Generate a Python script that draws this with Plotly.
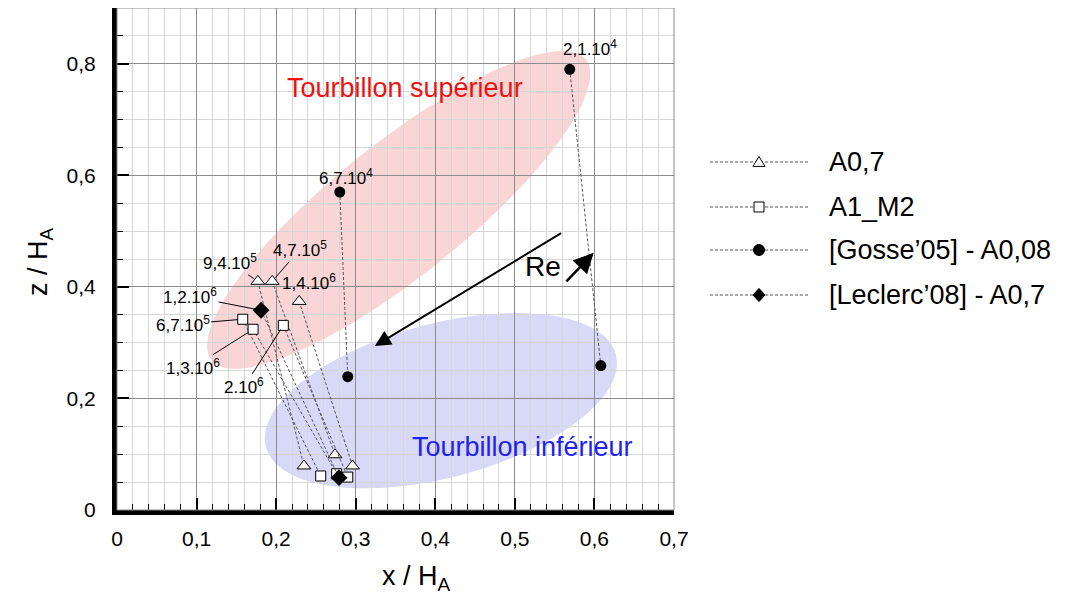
import numpy as np
import plotly.graph_objects as go

# A0,7 (open triangles): upper vortex position -> lower vortex position, one pair per Re
a07_re = ["9,4.10<sup>5</sup>", "4,7.10<sup>5</sup>", "1,4.10<sup>6</sup>"]
a07_up_x = [0.177, 0.195, 0.229]
a07_up_z = [0.410, 0.410, 0.374]
a07_lo_x = [0.235, 0.274, 0.296]
a07_lo_z = [0.079, 0.099, 0.079]

# A1_M2 (open squares)
a1m2_re = ["6,7.10<sup>5</sup>", "1,3.10<sup>6</sup>", "2.10<sup>6</sup>"]
a1m2_up_x = [0.158, 0.171, 0.209]
a1m2_up_z = [0.342, 0.324, 0.331]
a1m2_lo_x = [0.256, 0.276, 0.290]
a1m2_lo_z = [0.061, 0.065, 0.059]

# [Gosse'05] - A0,08 (filled circles)
gos_re = ["2,1.10<sup>4</sup>", "6,7.10<sup>4</sup>"]
gos_up_x = [0.569, 0.280]
gos_up_z = [0.790, 0.570]
gos_lo_x = [0.608, 0.290]
gos_lo_z = [0.259, 0.239]

# [Leclerc'08] - A0,7 (filled diamond)
lec_re = ["1,2.10<sup>6</sup>"]
lec_up_x = [0.181]
lec_up_z = [0.358]
lec_lo_x = [0.279]
lec_lo_z = [0.058]

legend_names = ["A0,7", "A1_M2", "[Gosse\u201905] - A0,08", "[Leclerc\u201908] - A0,7"]

x_ticks = [0, 0.1, 0.2, 0.3, 0.4, 0.5, 0.6, 0.7]
x_ticktext = ["0", "0,1", "0,2", "0,3", "0,4", "0,5", "0,6", "0,7"]
z_ticks = [0, 0.2, 0.4, 0.6, 0.8]
z_ticktext = ["0", "0,2", "0,4", "0,6", "0,8"]

FONT = "Liberation Sans Narrow, Arial Narrow, Liberation Sans, Arial, sans-serif"
W, H = 1066, 603
OFF = 8  # default body margin of the html page
L, R, T, B = 109, 400, 0, 101
PW, PH = W - L - R, H - T - B
X_RANGE = [0, 0.7]
Z_RANGE = [0, 0.9]
PX_X = PW / (X_RANGE[1] - X_RANGE[0])
PX_Z = PH / (Z_RANGE[1] - Z_RANGE[0])


def paper(xp, yp):
    """Page pixel position -> paper coordinates."""
    return (xp - OFF - L) / PW, (H - B - (yp - OFF)) / PH


def pairs(ux, uz, lx, lz):
    xs, zs = [], []
    for a, b, c, d in zip(ux, uz, lx, lz):
        xs += [a, c, None]
        zs += [b, d, None]
    return xs, zs


def ellipse_path(cx, cz, a_px, b_px, angle_deg, n=120):
    th = np.radians(angle_deg)
    t = np.linspace(0, 2 * np.pi, n)
    dx = a_px * np.cos(t) * np.cos(th) - b_px * np.sin(t) * np.sin(th)
    dz = a_px * np.cos(t) * np.sin(th) + b_px * np.sin(t) * np.cos(th)
    xs = cx + dx / PX_X
    zs = cz + dz / PX_Z
    pts = [f"{x:.5f},{z:.5f}" for x, z in zip(xs, zs)]
    return "M " + " L ".join(pts) + " Z"


def legend_symbol(kind, xp, yp, s, fill):
    """Small marker drawn as a paper shape, centred on page pixel (xp, yp)."""
    h = s / 2
    if kind == "triangle-up":
        pts = [(xp, yp - h), (xp + h * 1.1, yp + h * 0.8), (xp - h * 1.1, yp + h * 0.8)]
    elif kind == "square":
        pts = [(xp - h, yp - h), (xp + h, yp - h), (xp + h, yp + h), (xp - h, yp + h)]
    elif kind == "diamond":
        pts = [(xp, yp - h * 1.1), (xp + h, yp), (xp, yp + h * 1.1), (xp - h, yp)]
    else:
        x0, y0 = paper(xp - h, yp + h)
        x1, y1 = paper(xp + h, yp - h)
        return dict(type="circle", xref="paper", yref="paper", x0=x0, x1=x1, y0=y0, y1=y1,
                    fillcolor=fill, line=dict(color="black", width=1))
    path = "M " + " L ".join("{:.5f},{:.5f}".format(*paper(px, py)) for px, py in pts) + " Z"
    return dict(type="path", xref="paper", yref="paper", path=path,
                fillcolor=fill, line=dict(color="black", width=1))


line_style = dict(color="#555555", width=1, dash="3px,2px")
markers = [
    dict(symbol="triangle-up", size=12, color="white", line=dict(color="black", width=1)),
    dict(symbol="square", size=10, color="white", line=dict(color="black", width=1)),
    dict(symbol="circle", size=11, color="black", line=dict(color="black", width=0)),
    dict(symbol="diamond", size=13, color="black", line=dict(color="black", width=0)),
]
series = [
    (a07_up_x, a07_up_z, a07_lo_x, a07_lo_z),
    (a1m2_up_x, a1m2_up_z, a1m2_lo_x, a1m2_lo_z),
    (gos_up_x, gos_up_z, gos_lo_x, gos_lo_z),
    (lec_up_x, lec_up_z, lec_lo_x, lec_lo_z),
]

fig = go.Figure()
for (ux, uz, lx, lz), mk, name in zip(series, markers, legend_names):
    xs, zs = pairs(ux, uz, lx, lz)
    fig.add_trace(go.Scatter(
        x=xs, y=zs, mode="lines+markers", name=name,
        line=line_style, marker=mk, showlegend=False, hoverinfo="x+y",
    ))

# vortex regions
shapes = [
    dict(type="path", xref="x", yref="y", layer="below",
         path=ellipse_path(0.354, 0.538, 240, 66, 38.8),
         fillcolor="#f9d5d5", line=dict(width=0)),
    dict(type="path", xref="x", yref="y", layer="below",
         path=ellipse_path(0.407, 0.196, 181, 77, 14.8),
         fillcolor="#d8d8f8", line=dict(width=0)),
    # thin top/right frame
    dict(type="rect", xref="paper", yref="paper", x0=0, x1=1, y0=0, y1=1,
         line=dict(color="#8a8a8a", width=1), layer="above"),
]

annotations = []

# Reynolds-number labels: (screen dx, screen dy, leader line)
label_offsets = {
    "a07": [(-28, -19, True), (28, -32, True), (10, -19, False)],
    "a1m2": [(-60, 5, True), (-60, 38, True), (-39, 61, True)],
    "gos": [(20, -21, False), (6, -15, False)],
    "lec": [(-71, -14, True)],
}
for key, texts, ux, uz in [
    ("a07", a07_re, a07_up_x, a07_up_z),
    ("a1m2", a1m2_re, a1m2_up_x, a1m2_up_z),
    ("gos", gos_re, gos_up_x, gos_up_z),
    ("lec", lec_re, lec_up_x, lec_up_z),
]:
    for txt, x, z, (dx, dy, leader) in zip(texts, ux, uz, label_offsets[key]):
        ann = dict(x=x, y=z, xref="x", yref="y", text=txt,
                   font=dict(size=17, color="black", family=FONT))
        if leader:
            ann.update(showarrow=True, ax=dx, ay=dy, arrowhead=0, arrowwidth=1,
                       arrowcolor="black", standoff=5)
        else:
            ann.update(showarrow=False, xshift=dx, yshift=-dy)
        annotations.append(ann)

# region names, Re arrows
annotations += [
    dict(x=0.362, y=0.757, xref="x", yref="y", text="Tourbillon sup\u00e9rieur",
         showarrow=False, font=dict(size=27, color="#ee1111", family=FONT)),
    dict(x=0.510, y=0.113, xref="x", yref="y", text="Tourbillon inf\u00e9rieur",
         showarrow=False, font=dict(size=27, color="#2222ee", family=FONT)),
    dict(x=0.535, y=0.436, xref="x", yref="y", text="Re",
         showarrow=False, font=dict(size=28, color="black", family=FONT)),
    dict(x=0.324, y=0.294, ax=0.560, ay=0.498, xref="x", yref="y",
         axref="x", ayref="y", text="", showarrow=True, arrowhead=2,
         arrowsize=1.6, arrowwidth=2, arrowcolor="black"),
    dict(x=0.599, y=0.461, ax=0.563, ay=0.407, xref="x", yref="y",
         axref="x", ayref="y", text="", showarrow=True, arrowhead=2,
         arrowsize=1.6, arrowwidth=2.5, arrowcolor="black"),
]

# axis titles
tx, ty = paper(416, 578)
annotations.append(dict(x=tx, y=ty, xref="paper", yref="paper", text="x / H<sub>A</sub>",
                        xanchor="center", yanchor="middle", showarrow=False,
                        font=dict(size=27, color="black", family=FONT)))
tx, ty = paper(40, 262)
annotations.append(dict(x=tx, y=ty, xref="paper", yref="paper", text="z / H<sub>A</sub>",
                        textangle=-90, xanchor="center", yanchor="middle", showarrow=False,
                        font=dict(size=27, color="black", family=FONT)))

# legend drawn by hand: dashed line, marker, text
leg_rows = [162, 207, 250, 295]
leg_sizes = [11, 10, 11, 12]
for yp, mk, name, s in zip(leg_rows, markers, legend_names, leg_sizes):
    x0, yy = paper(710, yp)
    x1, _ = paper(808, yp)
    shapes.append(dict(type="line", xref="paper", yref="paper", x0=x0, x1=x1,
                       y0=yy, y1=yy, line=line_style))
    shapes.append(legend_symbol(mk["symbol"], 759, yp, s, mk["color"]))
    txp, _ = paper(827, yp)
    annotations.append(dict(x=txp, y=yy, xref="paper", yref="paper", text=name,
                            xanchor="left", yanchor="middle", showarrow=False,
                            font=dict(size=27, color="black", family=FONT)))

axis_common = dict(
    showline=True, linecolor="black", linewidth=5,
    ticks="inside", ticklen=12, tickwidth=2, tickcolor="black",
    showgrid=True, gridcolor="#8c8c8c", gridwidth=1, zeroline=False,
    tickfont=dict(size=21, color="black", family=FONT),
)

fig.update_layout(
    width=W, height=H,
    margin=dict(l=L, r=R, t=T, b=B),
    paper_bgcolor="white", plot_bgcolor="white",
    font=dict(family=FONT, color="black"),
    showlegend=False,
    xaxis=dict(range=X_RANGE, tickvals=x_ticks, ticktext=x_ticktext,
               ticklabelstandoff=6,
               minor=dict(dtick=0.02, tick0=0, showgrid=True, gridcolor="#d6d6d6",
                          ticks="inside", ticklen=6, tickcolor="black", tickwidth=1),
               **axis_common),
    yaxis=dict(range=Z_RANGE, tickvals=z_ticks, ticktext=z_ticktext,
               ticklabelstandoff=12,
               minor=dict(dtick=0.05, tick0=0, showgrid=True, gridcolor="#d6d6d6",
                          ticks="inside", ticklen=6, tickcolor="black", tickwidth=1),
               **axis_common),
    shapes=shapes,
    annotations=annotations,
)

fig.write_html("out.html")
